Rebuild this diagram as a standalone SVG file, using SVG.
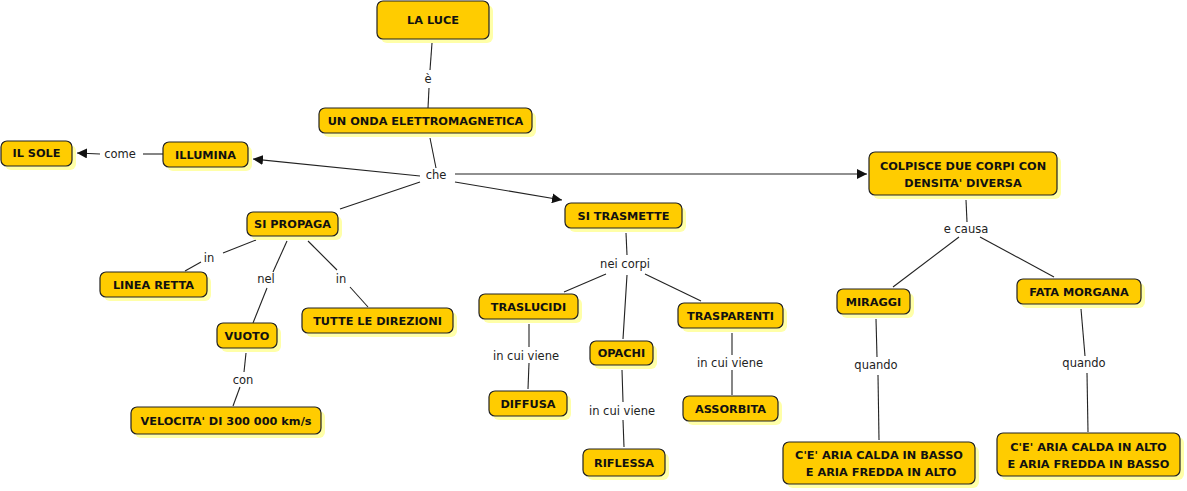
<svg xmlns="http://www.w3.org/2000/svg" width="1187" height="491" viewBox="0 0 1187 491">
<style>
.sh{fill:#ffffa8;stroke:none}
.bx{fill:#ffcc00;stroke:#222;stroke-width:1.2}
.nt{font-family:"DejaVu Sans",sans-serif;font-weight:bold;font-size:11.3px;fill:#111;text-anchor:middle}
.lb{font-family:"DejaVu Sans",sans-serif;font-size:11.5px;fill:#222;text-anchor:middle}
.ln{stroke:#222;stroke-width:1.1;fill:none}
.ar{stroke:#222;stroke-width:1.1;fill:none;marker-end:url(#ah)}
</style>
<defs>
<marker id="ah" viewBox="0 0 10 10" refX="10" refY="5" markerWidth="10" markerHeight="10" markerUnits="userSpaceOnUse" orient="auto">
<path d="M0,0 L10,5 L0,10 z" fill="#111"/>
</marker>
</defs>
<rect width="1187" height="491" fill="#fff"/>
<g id="connectors">
<line class="ln" x1="432" y1="43" x2="430" y2="70"/>
<line class="ln" x1="429" y1="88" x2="428" y2="108"/>
<line class="ln" x1="430" y1="138" x2="436" y2="168"/>
<line class="ar" x1="420" y1="176" x2="253" y2="159"/>
<line class="ln" x1="420" y1="182" x2="340" y2="209"/>
<line class="ar" x1="455" y1="182" x2="562" y2="200"/>
<line class="ar" x1="455" y1="174" x2="867" y2="174"/>
<line class="ln" x1="163" y1="154" x2="143" y2="154"/>
<line class="ar" x1="100" y1="154" x2="77" y2="153"/>
<line class="ln" x1="256" y1="240" x2="223" y2="253"/>
<line class="ln" x1="201" y1="262" x2="185" y2="271"/>
<line class="ln" x1="287" y1="241" x2="273" y2="272"/>
<line class="ln" x1="267" y1="288" x2="253" y2="323"/>
<line class="ln" x1="308" y1="241" x2="337" y2="270"/>
<line class="ln" x1="350" y1="287" x2="368" y2="307"/>
<line class="ln" x1="246" y1="353" x2="244" y2="372"/>
<line class="ln" x1="240" y1="387" x2="233" y2="406"/>
<line class="ln" x1="626" y1="233" x2="627" y2="255"/>
<line class="ln" x1="606" y1="274" x2="564" y2="292"/>
<line class="ln" x1="627" y1="275" x2="623" y2="339"/>
<line class="ln" x1="645" y1="274" x2="701" y2="301"/>
<line class="ln" x1="529" y1="324" x2="529" y2="347"/>
<line class="ln" x1="529" y1="363" x2="528" y2="389"/>
<line class="ln" x1="622" y1="370" x2="623" y2="402"/>
<line class="ln" x1="623" y1="420" x2="624" y2="447"/>
<line class="ln" x1="732" y1="333" x2="732" y2="355"/>
<line class="ln" x1="732" y1="370" x2="732" y2="395"/>
<line class="ln" x1="966" y1="200" x2="967" y2="222"/>
<line class="ln" x1="959" y1="237" x2="893" y2="287"/>
<line class="ln" x1="980" y1="237" x2="1054" y2="277"/>
<line class="ln" x1="876" y1="319" x2="877" y2="357"/>
<line class="ln" x1="878" y1="375" x2="879" y2="440"/>
<line class="ln" x1="1081" y1="309" x2="1085" y2="356"/>
<line class="ln" x1="1087" y1="373" x2="1088" y2="432"/>
<text class="lb" x="428" y="83">è</text>
<text class="lb" x="436" y="179">che</text>
<text class="lb" x="120" y="158">come</text>
<text class="lb" x="209" y="262">in</text>
<text class="lb" x="266" y="283">nel</text>
<text class="lb" x="341" y="283">in</text>
<text class="lb" x="243" y="384">con</text>
<text class="lb" x="625" y="268">nei corpi</text>
<text class="lb" x="526" y="360">in cui viene</text>
<text class="lb" x="622" y="415">in cui viene</text>
<text class="lb" x="730" y="367">in cui viene</text>
<text class="lb" x="966" y="233">e causa</text>
<text class="lb" x="876" y="369">quando</text>
<text class="lb" x="1084" y="367">quando</text>
</g>
<g id="la-luce"><rect class="sh" x="381" y="5" width="112" height="38" rx="6"/><rect class="bx" x="377" y="1" width="112" height="38" rx="6"/><text class="nt" x="433" y="24">LA LUCE</text></g>
<g id="onda"><rect class="sh" x="323" y="112" width="213" height="25" rx="6"/><rect class="bx" x="319" y="108" width="213" height="25" rx="6"/><text class="nt" x="425.5" y="124.5">UN ONDA ELETTROMAGNETICA</text></g>
<g id="il-sole"><rect class="sh" x="5" y="145" width="71" height="25" rx="6"/><rect class="bx" x="1" y="141" width="71" height="25" rx="6"/><text class="nt" x="36.5" y="157">IL SOLE</text></g>
<g id="illumina"><rect class="sh" x="167" y="146" width="85" height="25" rx="6"/><rect class="bx" x="163" y="142" width="85" height="25" rx="6"/><text class="nt" x="205.5" y="158.5">ILLUMINA</text></g>
<g id="si-propaga"><rect class="sh" x="251" y="216" width="91" height="24" rx="6"/><rect class="bx" x="247" y="212" width="91" height="24" rx="6"/><text class="nt" x="292.5" y="228">SI PROPAGA</text></g>
<g id="linea-retta"><rect class="sh" x="104" y="276" width="107" height="25" rx="6"/><rect class="bx" x="100" y="272" width="107" height="25" rx="6"/><text class="nt" x="153.5" y="288.5">LINEA RETTA</text></g>
<g id="tutte"><rect class="sh" x="306" y="312" width="151" height="25" rx="6"/><rect class="bx" x="302" y="308" width="151" height="25" rx="6"/><text class="nt" x="377.5" y="324.5">TUTTE LE DIREZIONI</text></g>
<g id="vuoto"><rect class="sh" x="221" y="327" width="60" height="25" rx="6"/><rect class="bx" x="217" y="323" width="60" height="25" rx="6"/><text class="nt" x="247" y="339.5">VUOTO</text></g>
<g id="velocita"><rect class="sh" x="135" y="411" width="190" height="27" rx="6"/><rect class="bx" x="131" y="407" width="190" height="27" rx="6"/><text class="nt" x="226" y="424.5">VELOCITA' DI 300 000 km/s</text></g>
<g id="si-trasmette"><rect class="sh" x="569" y="207" width="117" height="25" rx="6"/><rect class="bx" x="565" y="203" width="117" height="25" rx="6"/><text class="nt" x="623.5" y="219.5">SI TRASMETTE</text></g>
<g id="traslucidi"><rect class="sh" x="483" y="298" width="99" height="25" rx="6"/><rect class="bx" x="479" y="294" width="99" height="25" rx="6"/><text class="nt" x="528.5" y="310.5">TRASLUCIDI</text></g>
<g id="opachi"><rect class="sh" x="594" y="345" width="63" height="24" rx="6"/><rect class="bx" x="590" y="341" width="63" height="24" rx="6"/><text class="nt" x="621.5" y="357">OPACHI</text></g>
<g id="trasparenti"><rect class="sh" x="682" y="307" width="105" height="25" rx="6"/><rect class="bx" x="678" y="303" width="105" height="25" rx="6"/><text class="nt" x="730.5" y="319.5">TRASPARENTI</text></g>
<g id="diffusa"><rect class="sh" x="493" y="395" width="78" height="25" rx="6"/><rect class="bx" x="489" y="391" width="78" height="25" rx="6"/><text class="nt" x="528" y="407.5">DIFFUSA</text></g>
<g id="riflessa"><rect class="sh" x="587" y="453" width="82" height="27" rx="6"/><rect class="bx" x="583" y="449" width="82" height="27" rx="6"/><text class="nt" x="624" y="466.5">RIFLESSA</text></g>
<g id="assorbita"><rect class="sh" x="687" y="400" width="95" height="25" rx="6"/><rect class="bx" x="683" y="396" width="95" height="25" rx="6"/><text class="nt" x="730.5" y="412.5">ASSORBITA</text></g>
<g id="colpisce"><rect class="sh" x="873" y="156" width="188" height="43" rx="6"/><rect class="bx" x="869" y="152" width="188" height="43" rx="6"/><text class="nt" x="963" y="170">COLPISCE DUE CORPI CON</text><text class="nt" x="963" y="187">DENSITA' DIVERSA</text></g>
<g id="miraggi"><rect class="sh" x="841" y="293" width="73" height="25" rx="6"/><rect class="bx" x="837" y="289" width="73" height="25" rx="6"/><text class="nt" x="873.5" y="305.5">MIRAGGI</text></g>
<g id="fata-morgana"><rect class="sh" x="1021" y="283" width="124" height="25" rx="6"/><rect class="bx" x="1017" y="279" width="124" height="25" rx="6"/><text class="nt" x="1079" y="295.5">FATA MORGANA</text></g>
<g id="aria-basso"><rect class="sh" x="787" y="446" width="192" height="42" rx="6"/><rect class="bx" x="783" y="442" width="192" height="42" rx="6"/><text class="nt" x="879" y="459">C'E' ARIA CALDA IN BASSO</text><text class="nt" x="881" y="476">E ARIA FREDDA IN ALTO</text></g>
<g id="aria-alto"><rect class="sh" x="1001" y="437" width="183" height="43" rx="6"/><rect class="bx" x="997" y="433" width="183" height="43" rx="6"/><text class="nt" x="1088.5" y="451">C'E' ARIA CALDA IN ALTO</text><text class="nt" x="1088.5" y="468">E ARIA FREDDA IN BASSO</text></g>
</svg>
